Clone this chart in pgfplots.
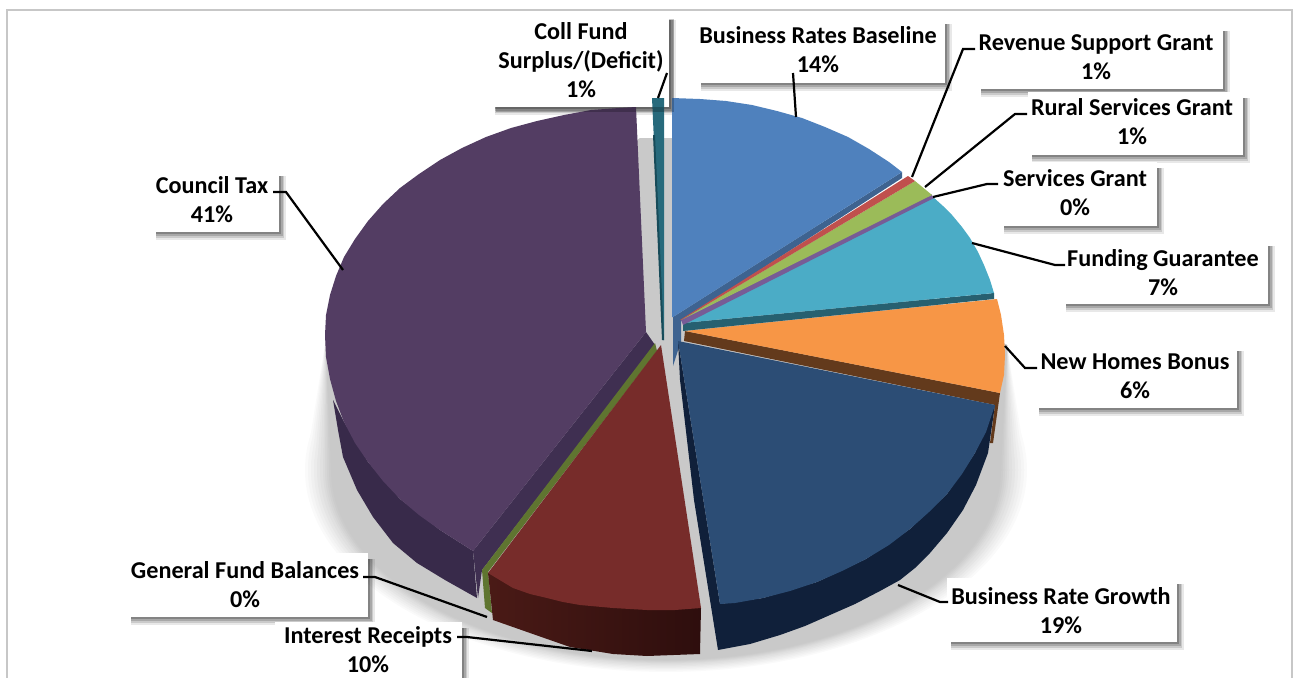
\documentclass[border=0pt]{standalone}
\usepackage{fontspec}
\setmainfont{Carlito}
\usepackage{pgfplots}
\pgfplotsset{compat=1.18}

\definecolor{cBlue}{HTML}{4F81BD}\definecolor{cBlueW}{HTML}{3E6390}
\definecolor{cRed}{HTML}{C0504D}\definecolor{cGreen}{HTML}{9BBB59}
\definecolor{cThin}{HTML}{775C96}\definecolor{cTeal}{HTML}{4BACC6}
\definecolor{cTealW}{HTML}{276070}\definecolor{cOrange}{HTML}{F79646}
\definecolor{cBrown}{HTML}{633A1C}\definecolor{cNavy}{HTML}{2C4D75}
\definecolor{cNavyW}{HTML}{10203A}\definecolor{cMaroon}{HTML}{772C2A}
\definecolor{cOlive}{HTML}{5F7530}\definecolor{cPlum}{HTML}{533D63}
\definecolor{cPlumC}{HTML}{3F2F51}\definecolor{cColl}{HTML}{276A7C}
\definecolor{cCollD}{HTML}{174B59}
\definecolor{cWallA}{HTML}{4A1A16}\definecolor{cWallB}{HTML}{2E0E0D}
\definecolor{cPlumD}{HTML}{2E2140}\definecolor{cPlumE}{HTML}{382A4A}

% label box with a soft drop shadow: left, top, right, bottom
\newcommand{\labelbox}[4]{%
  \fill[black,opacity=0.09] (axis cs:#1+4,#2+6) rectangle (axis cs:#3+6.5,#4+8);
  \fill[black,opacity=0.13] (axis cs:#1+4,#2+6) rectangle (axis cs:#3+5,#4+6);
  \fill[black,opacity=0.17] (axis cs:#1+4,#2+6) rectangle (axis cs:#3+3.5,#4+4);
  \fill[black,opacity=0.22] (axis cs:#1+4,#2+6) rectangle (axis cs:#3+2,#4+2);
  \fill[white] (axis cs:#1,#2) rectangle (axis cs:#3,#4);}
\newcommand{\leader}[1]{\draw[black,line width=2.2pt,line join=miter] #1;}
\newcommand{\lab}[3]{\node[align=center,inner sep=0pt,text=black,
  font=\fontsize{24.2}{29}\selectfont\bfseries] at (axis cs:#1,#2) {#3};}
% one ring of the blurred floor shadow: percent of black, growth of the radius
\newcommand{\ring}[2]{%
  \fill[black!#1!white] (axis cs:666,470) ellipse [x radius=335+#2, y radius=190+#2*0.46];
  \fill[black!#1!white] (axis cs:666-335-#2,470) -- (axis cs:326,338) -- (axis cs:1007,345) -- (axis cs:666+335+#2,470) -- cycle;}

\begin{document}
\begin{tikzpicture}
\useasboundingbox (0,0) rectangle (1295pt,677pt);
\begin{axis}[
  at={(0,0)}, anchor=south west,
  scale only axis, width=1295pt, height=677pt,
  xmin=0, xmax=1295, ymin=0, ymax=677, y dir=reverse,
  hide axis, clip=true]

% floor shadow under the pie
\ring{2}{26}\ring{4}{23}\ring{6}{20}\ring{8}{17}\ring{10}{14}\ring{12}{11}
\ring{14}{8}\ring{16}{6}\ring{18}{4}\ring{20}{2}\ring{21}{0}
\fill[black!21!white] (axis cs:326,338) -- (axis cs:640,138) -- (axis cs:680,138) -- (axis cs:1007,345) -- cycle;

% chart frame
\draw[color=black!22,line width=1.6pt] (axis cs:7,678) -- (axis cs:7,10) -- (axis cs:1292,10) -- (axis cs:1292,678);

% label boxes
\labelbox{491}{14}{669}{107}
\labelbox{152}{170}{279}{232}
\labelbox{697}{18}{945}{83}
\labelbox{977}{25}{1223}{89}
\labelbox{1028}{92}{1243}{155}
\labelbox{1000}{162}{1157}{226}
\labelbox{1062}{240}{1268}{304}
\labelbox{1035}{345}{1237}{408}
\labelbox{947}{578}{1177}{642}
\labelbox{127}{553}{368}{617}
\labelbox{275}{622}{462}{690}

% Business Rates Baseline
\addplot[fill=cBlueW,draw=none] coordinates {(673,317)(902,172)(902,178)(681,321)(681,341)(673,366)} -- cycle;
\addplot[fill=cBlue,draw=none] coordinates {(672,98)(700,99)(726,101)(752,105)(777,111)(802,118)(825,127)(848,137)(869,149)(889,162)(902,172)(673,317)(672,317)} -- cycle;

% Coll Fund Surplus/(Deficit)
\addplot[fill=cColl,draw=none] coordinates {(652,98)(664,98)(664,340)(663,340)} -- cycle;
\addplot[fill=cCollD,draw=none] coordinates {(653,135)(655,135)(664,340)(662,340)} -- cycle;

% Council Tax: outer wall, cut wall, top
\addplot[draw=none,left color=cPlumE,middle color=cPlumD,right color=cPlumE] coordinates {(333,400)(338,430)(343,457)(357,490)(373,517)(393,543)(417,563)(445,580)(477,598)(473,551)(440,530)(400,499)(368,462)(344,422)} -- cycle;
\addplot[fill=cPlumC,draw=none] coordinates {(646,332)(473,551)(478,598)(482,570)(655,345)} -- cycle;
\addplot[fill=cPlum,draw=none] coordinates {(636,107)(619,108)(591,110)(564,115)(537,121)(511,128)(486,137)(462,148)(440,160)(419,174)(400,188)(383,204)(368,221)(355,239)(344,257)(336,276)(330,295)(326,315)(325,335)(326,357)(330,379)(336,401)(344,422)(355,443)(368,462)(383,481)(400,499)(419,515)(440,530)(462,544)(473,551)(646,332)} -- cycle;

% General Fund Balances
\addplot[fill=cOlive,draw=none] coordinates {(655,343)(482,570)(485,608)(492,613)(488,572)(657,351)} -- cycle;

% Interest Receipts
\addplot[draw=none,left color=cWallA,right color=cWallB] coordinates {(488,573)(493,620)(530,633)(570,647)(613,654)(647,656)(700,654)(701,608)} -- cycle;
\addplot[fill=cMaroon,draw=none] coordinates {(661,345)(488,573)(513,588)(530,594)(547,598)(563,602)(580,605)(613,608)(647,610)(675,610)(701,608)} -- cycle;

% New Homes Bonus
\addplot[fill=cBrown,draw=none] coordinates {(685,331)(1000,393)(993,443)(990,443)(995,405)(684,341)} -- cycle;
\addplot[fill=cOrange,draw=none] coordinates {(685,331)(997,299)(1001,315)(1004,335)(1005,355)(1004,375)(1000,393)} -- cycle;

% Business Rate Growth
\addplot[fill=cNavyW,draw=none] coordinates {(678,341)(720,604)(763,598)(817,582)(866,559)(910,529)(947,494)(975,453)(995,405)(988,453)(976,485)(963,510)(947,533)(930,553)(915,568)(900,580)(880,591)(855,604)(830,615)(805,626)(780,635)(750,644)(718,650)(694,500)(680,380)} -- cycle;
\addplot[fill=cNavy,draw=none] coordinates {(678,341)(720,604)(735,603)(763,598)(790,591)(817,582)(842,571)(866,559)(889,545)(910,529)(929,512)(947,494)(962,474)(975,453)(986,432)(995,405)} -- cycle;

% Funding Guarantee
\addplot[fill=cTealW,draw=none] coordinates {(683,323)(994,293)(994,299)(683,331)} -- cycle;
\addplot[fill=cTeal,draw=none] coordinates {(683,323)(933,197)(943,206)(952,215)(962,227)(970,238)(978,252)(984,265)(990,280)(994,293)} -- cycle;

% Services Grant, Rural Services Grant, Revenue Support Grant
\addplot[fill=cThin,draw=none] coordinates {(681,320)(931,194)(934,198)(683,325)} -- cycle;
\addplot[fill=cGreen,draw=none] coordinates {(681,320)(915,181)(932,195)} -- cycle;
\addplot[fill=cRed,draw=none] coordinates {(680,320)(908,176)(915,181)(681,320)} -- cycle;

% shadow of the top box falling across the pie
\fill[black,opacity=0.22] (axis cs:496,107) rectangle (axis cs:674,112);
\fill[black,opacity=0.22] (axis cs:669,19) rectangle (axis cs:674,107);

% leader lines
\leader{(axis cs:667,73) -- (axis cs:658,98)}
\leader{(axis cs:793,73) -- (axis cs:796,117)}
\leader{(axis cs:975,49) -- (axis cs:963,49) -- (axis cs:912,177)}
\leader{(axis cs:1027,114) -- (axis cs:1015,114) -- (axis cs:925,187)}
\leader{(axis cs:998,184) -- (axis cs:987,184) -- (axis cs:933,197)}
\leader{(axis cs:972,243) -- (axis cs:1055,265) -- (axis cs:1065,265)}
\leader{(axis cs:1005,346) -- (axis cs:1025,368) -- (axis cs:1037,368)}
\leader{(axis cs:898,585) -- (axis cs:940,602) -- (axis cs:948,602)}
\leader{(axis cs:363,577) -- (axis cs:375,577) -- (axis cs:487,617)}
\leader{(axis cs:457,637) -- (axis cs:467,637) -- (axis cs:592,651)}
\leader{(axis cs:273,192) -- (axis cs:286,192) -- (axis cs:343,270)}

% labels
\lab{581}{60}{Coll Fund\\Surplus/(Deficit)\\1\%}
\lab{212}{200}{Council Tax\\41\%}
\lab{818}{50}{Business Rates Baseline\\14\%}
\lab{1096}{57}{Revenue Support Grant\\1\%}
\lab{1132}{122}{Rural Services Grant\\1\%}
\lab{1075}{193}{Services Grant\\0\%}
\lab{1163}{273}{Funding Guarantee\\7\%}
\lab{1135}{376}{New Homes Bonus\\6\%}
\lab{1061}{611}{Business Rate Growth\\19\%}
\lab{245}{585}{General Fund Balances\\0\%}
\lab{368}{650}{Interest Receipts\\10\%}
\end{axis}
\end{tikzpicture}
\end{document}
